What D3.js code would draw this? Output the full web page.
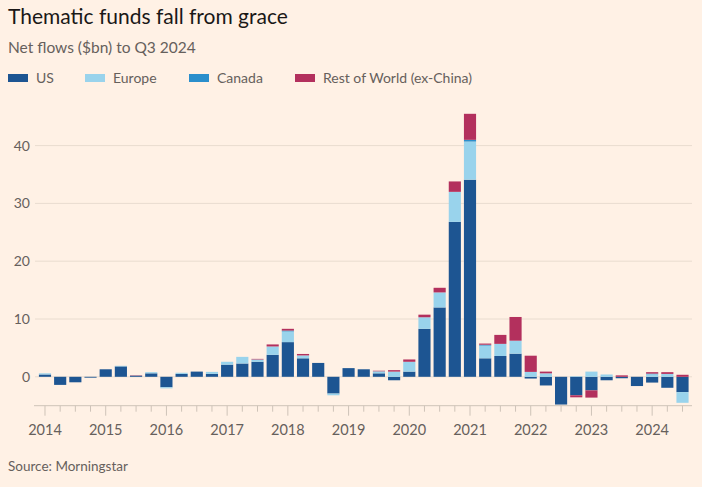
<!DOCTYPE html>
<html>
<head>
<meta charset="utf-8">
<script src="https://cdn.jsdelivr.net/npm/d3@7"></script>
<style>
  body { margin: 0; background: #fff1e5; }
  svg { display: block; font-family: Lato, "Noto Sans", sans-serif; }
</style>
</head>
<body>
<svg id="chart"></svg>
<script>
const quarters = [
  '2014 Q1','2014 Q2','2014 Q3','2014 Q4',
  '2015 Q1','2015 Q2','2015 Q3','2015 Q4',
  '2016 Q1','2016 Q2','2016 Q3','2016 Q4',
  '2017 Q1','2017 Q2','2017 Q3','2017 Q4',
  '2018 Q1','2018 Q2','2018 Q3','2018 Q4',
  '2019 Q1','2019 Q2','2019 Q3','2019 Q4',
  '2020 Q1','2020 Q2','2020 Q3','2020 Q4',
  '2021 Q1','2021 Q2','2021 Q3','2021 Q4',
  '2022 Q1','2022 Q2','2022 Q3','2022 Q4',
  '2023 Q1','2023 Q2','2023 Q3','2023 Q4',
  '2024 Q1','2024 Q2','2024 Q3'
]

// net flows, $bn
const us = [
  0.4, -1.4, -0.95, -0.15,
  1.3, 1.8, 0.2, 0.6,
  -1.8, 0.5, 0.9, 0.5,
  2.1, 2.3, 2.6, 3.8,
  6.0, 3.2, 2.4, -2.9,
  1.5, 1.3, 0.6, -0.6,
  0.9, 8.3, 12.0, 26.8,
  34.1, 3.2, 3.6, 4.0,
  -0.3, -1.5, -4.8, -3.2,
  -2.35, -0.6, -0.25, -1.6,
  -1.0, -1.9, -2.65
]
const europe = [
  0.2, 0, 0, 0,
  0, 0.1, 0, 0.2,
  -0.2, 0.2, 0, 0.35,
  0.5, 1.15, 0.4, 1.45,
  1.85, 0.5, 0, -0.3,
  0, 0, 0.35, 0.9,
  1.7, 2.0, 2.6, 5.2,
  6.6, 2.2, 2.1, 2.25,
  0.85, 0.6, 0, 0.1,
  0.9, 0.4, 0, 0,
  0.45, 0.5, -1.85
]
const canada = [
  0, 0, 0, 0,
  0, 0, 0, 0,
  0, 0, 0, 0,
  0, 0, 0, 0,
  0.15, 0, 0, 0,
  0, 0, 0, 0,
  0, 0, 0, 0,
  0.3, 0.15, 0, 0,
  0, 0, 0, 0,
  0, 0, 0, 0,
  0.1, 0, 0
]
const restOfWorld = [
  0, 0, 0, 0,
  0, 0, 0.05, 0,
  0, 0, 0, 0,
  0, 0, 0.1, 0.35,
  0.3, 0.25, 0, 0,
  0, 0, 0.1, 0.25,
  0.4, 0.45, 0.8, 1.8,
  4.5, 0.2, 1.55, 4.1,
  2.8, 0.3, 0, -0.35,
  -1.25, 0, 0.25, 0,
  0.25, 0.3, 0.35
]

const seriesNames = ['US', 'Europe', 'Canada', 'Rest of World (ex-China)']
const seriesKeys = ['us', 'europe', 'canada', 'row']
const colors = ['#1d5592', '#99d3ec', '#2b8fcc', '#b3305d']
const yTicks = [0, 10, 20, 30, 40]
const years = ['2014','2015','2016','2017','2018','2019','2020','2021','2022','2023','2024']

const width = 702, height = 487

const table = quarters.map((q, i) => ({
  quarter: q, us: us[i], europe: europe[i], canada: canada[i], row: restOfWorld[i]
}))

const svg = d3.select('#chart')
  .attr('width', width)
  .attr('height', height)

svg.append('rect')
  .attr('width', width).attr('height', height)
  .attr('fill', '#fff1e5')

// titles
svg.append('text')
  .attr('x', 8).attr('y', 24)
  .attr('font-size', 21)
  .attr('fill', '#1a1817')
  .text('Thematic funds fall from grace')

svg.append('text')
  .attr('x', 8).attr('y', 53)
  .attr('font-size', 15.5)
  .attr('fill', '#66605c')
  .text('Net flows ($bn) to Q3 2024')

// legend
const legendX = [8, 85, 189, 295]
const legend = svg.append('g')
  .selectAll('g')
  .data(seriesNames)
  .join('g')
    .attr('transform', (d, i) => 'translate(' + legendX[i] + ',74)')

legend.append('rect')
  .attr('width', 20).attr('height', 8)
  .attr('fill', (d, i) => colors[i])

legend.append('text')
  .attr('x', 28).attr('y', 9)
  .attr('font-size', 14)
  .attr('fill', '#66605c')
  .text(d => d)

const x = d3.scaleBand()
  .domain(quarters)
  .range([37.4, 690.1])
  .paddingInner(0.2)
  .paddingOuter(0.1)

const y = d3.scaleLinear()
  .domain([-5, 40])
  .range([405.7, 145.6])

// gridlines + y labels
svg.append('g')
  .selectAll('line')
  .data(yTicks)
  .join('line')
    .attr('x1', 35).attr('x2', 692)
    .attr('y1', d => y(d)).attr('y2', d => y(d))
    .attr('stroke', '#e9dccf')
    .attr('stroke-width', 1)

svg.append('g')
  .selectAll('text')
  .data(yTicks)
  .join('text')
    .attr('x', 30)
    .attr('y', d => y(d))
    .attr('dy', '0.35em')
    .attr('text-anchor', 'end')
    .attr('font-size', 14)
    .attr('fill', '#66605c')
    .text(d => d)

// stacked bars
const stacked = d3.stack()
  .keys(seriesKeys)
  .offset(d3.stackOffsetDiverging)(table)

svg.append('g')
  .selectAll('g')
  .data(stacked)
  .join('g')
    .attr('fill', (d, i) => colors[i])
  .selectAll('rect')
  .data(d => d)
  .join('rect')
    .attr('x', d => x(d.data.quarter))
    .attr('width', x.bandwidth())
    .attr('y', d => y(Math.max(d[0], d[1])))
    .attr('height', d => Math.abs(y(d[0]) - y(d[1])))

// x axis
const axisY = y(-5)
const xAxis = svg.append('g')
  .attr('transform', 'translate(0,' + axisY + ')')

xAxis.append('line')
  .attr('x1', 34).attr('x2', 692)
  .attr('stroke', '#cec3b8')

xAxis.selectAll('line.tick')
  .data(quarters)
  .join('line')
    .attr('class', 'tick')
    .attr('x1', d => x(d) + x.bandwidth() / 2)
    .attr('x2', d => x(d) + x.bandwidth() / 2)
    .attr('y1', 0)
    .attr('y2', d => d.endsWith('Q1') ? 10 : 6)
    .attr('stroke', '#cec3b8')

xAxis.selectAll('text')
  .data(years)
  .join('text')
    .attr('x', d => x(d + ' Q1') + x.bandwidth() / 2)
    .attr('y', 29)
    .attr('text-anchor', 'middle')
    .attr('font-size', 14.5)
    .attr('fill', '#66605c')
    .text(d => d)

svg.append('text')
  .attr('x', 8).attr('y', 471)
  .attr('font-size', 13.5)
  .attr('fill', '#66605c')
  .text('Source: Morningstar')
</script>
</body>
</html>
